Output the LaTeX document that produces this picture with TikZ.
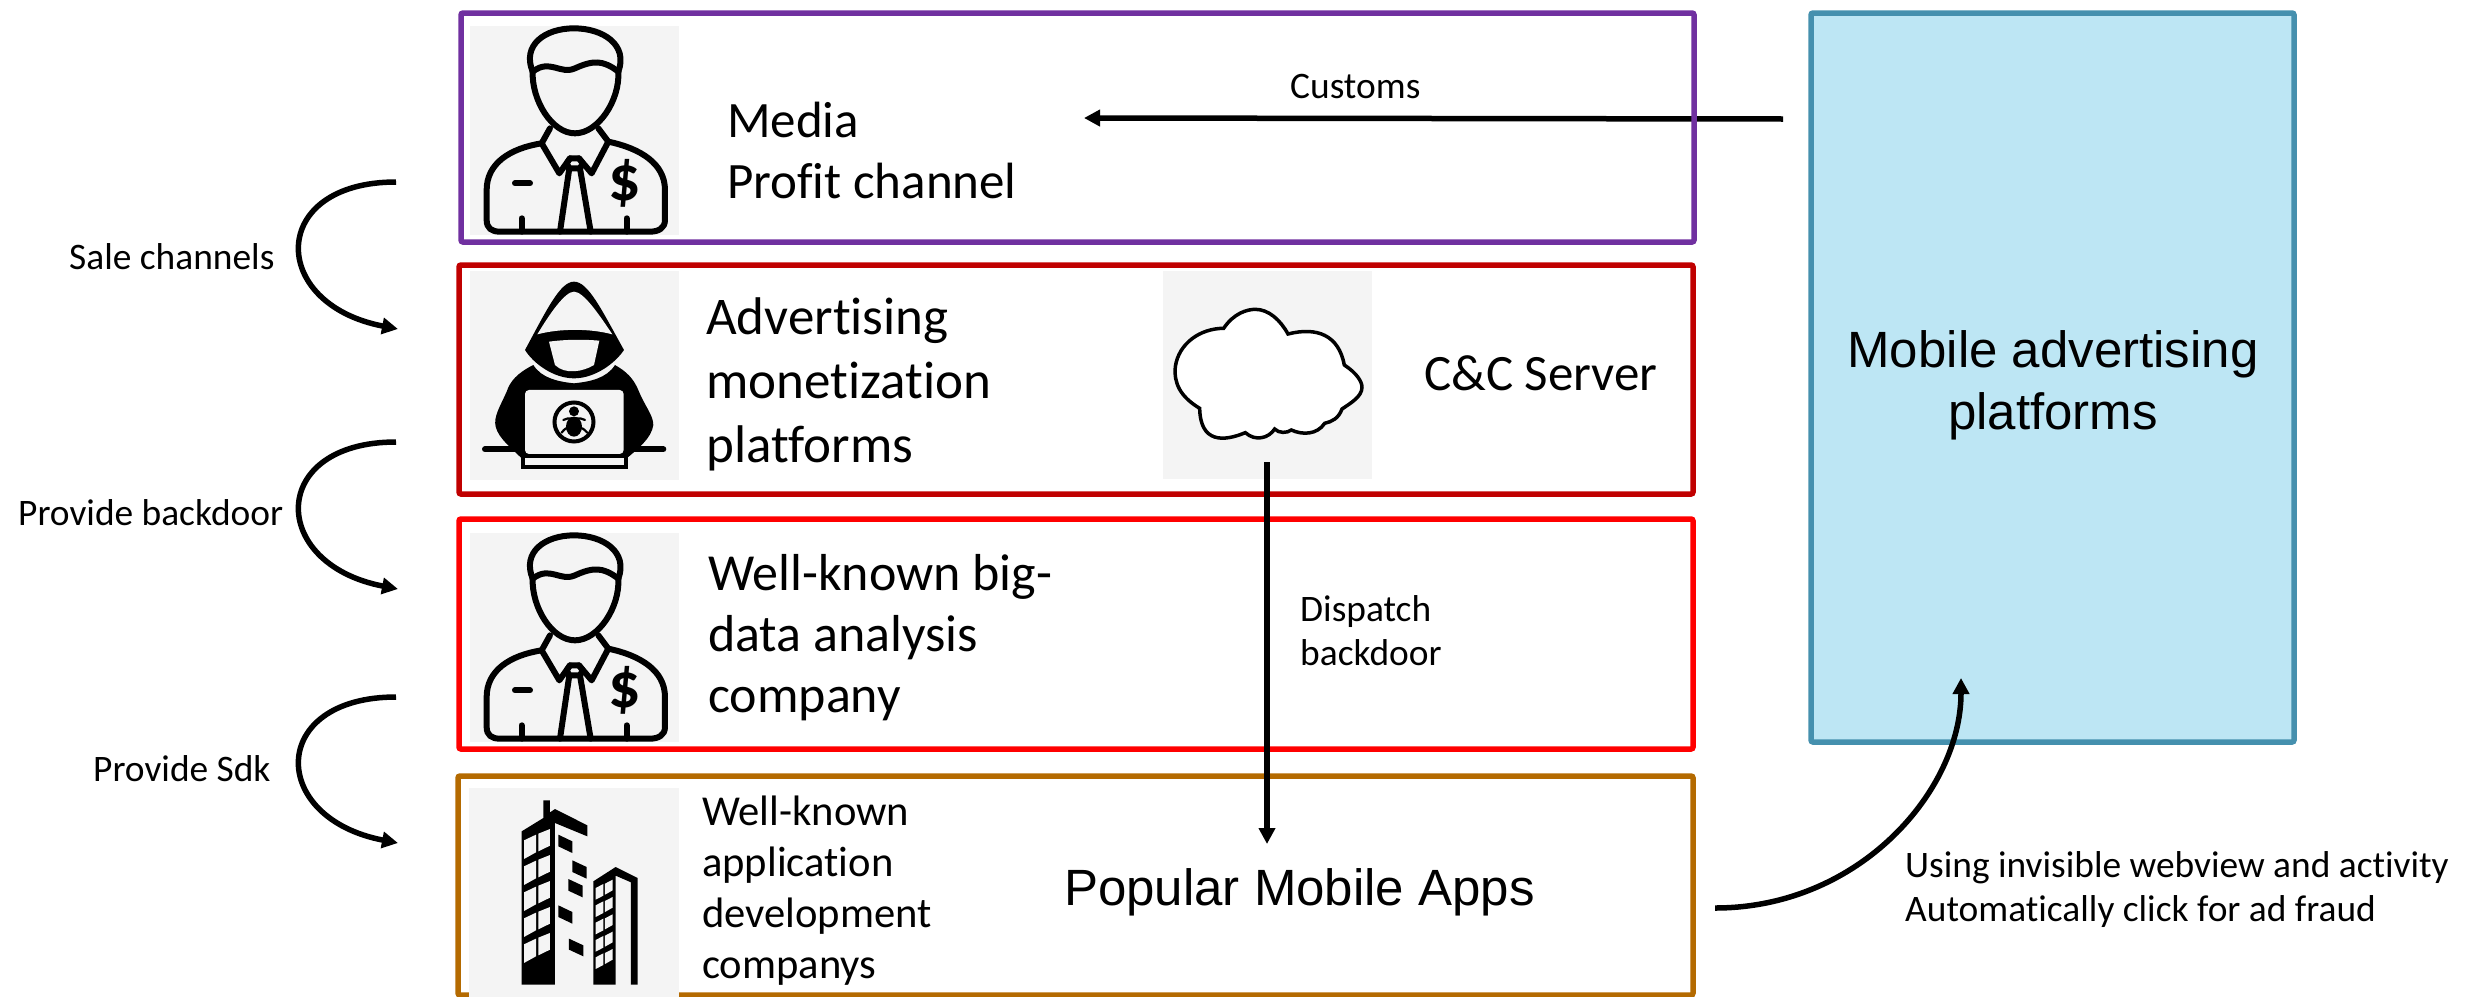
\documentclass[tikz,border=0pt]{standalone}
\usepackage{fontspec}
\setmainfont{Carlito}[Ligatures=NoCommon]
\newfontfamily\arialf{Liberation Sans}
\usetikzlibrary{arrows.meta}
\definecolor{cpurple}{HTML}{7030A0}
\definecolor{cdred}{HTML}{C00000}
\definecolor{cred}{HTML}{FF0000}
\definecolor{corange}{HTML}{B46A00}
\definecolor{cblue}{HTML}{BDE6F4}
\definecolor{cbluedk}{HTML}{4590AE}
\definecolor{cgrey}{HTML}{F4F4F4}
\tikzset{
 layerbox/.style={draw=#1,line width=5.5pt,rounded corners=2pt,inner sep=0pt,outer sep=0pt,anchor=north west},
 lbl/.style n args={2}{inner sep=0pt,align=left,anchor=west,font=\fontsize{#1}{#2}\selectfont},
 flow/.style={line width=5.5pt,-{Triangle[length=16pt,width=16pt]}},
 ink/.style={line width=6pt,line join=round,line cap=round},
 manicon/.pic={
  \begin{scope}[x=.3333pt,y=-.3333pt,shift={(-60,-78)}]
   \fill[cgrey] (60,78) rectangle (687,705);
   \draw[ink] (248,215) .. controls (215,135) and (285,85) .. (372,85) .. controls (460,85) and (535,135) .. (505,215);
   \draw[ink] (248,215) .. controls (300,175) and (330,225) .. (375,205) .. controls (430,180) and (460,180) .. (505,215);
   \draw[ink] (248,215) .. controls (245,300) and (305,400) .. (375,400) .. controls (445,400) and (510,300) .. (505,215);
   \draw[ink] (300,385) -- (275,430) -- (328,520) -- (360,475) -- (387,475) -- (425,520) -- (475,425) -- (445,385);
   \draw[ink] (360,475) -- (350,490) -- (358,505) -- (390,505) -- (398,490) -- (387,475);
   \draw[ink] (358,505) -- (330,695) (390,505) -- (422,695);
   \draw[ink] (275,430) .. controls (180,445) and (110,490) .. (110,570) -- (110,660) .. controls (110,685) and (125,695) .. (150,695) -- (600,695) .. controls (625,695) and (645,685) .. (645,660) -- (645,570) .. controls (645,490) and (570,445) .. (475,425);
   \draw[ink] (215,655) -- (215,695) (530,655) -- (530,695);
   \draw[ink] (195,550) -- (240,550);
   \node[inner sep=0pt,font=\fontsize{64}{64}\selectfont\bfseries] at (525,550) {\$};
  \end{scope}},
 hackicon/.pic={
  \begin{scope}[x=.3333pt,y=-.3333pt,shift={(-60,-63)}]
   \fill[cgrey] (60,63) rectangle (687,690);
   \draw[line width=6pt,line cap=round] (105,598) -- (640,598);
   \fill (250,345) .. controls (200,370) and (180,395) .. (170,425) .. controls (150,470) and (130,500) .. (137,530) .. controls (145,565) and (190,600) .. (215,625) -- (530,625) .. controls (560,600) and (605,565) .. (610,525) .. controls (610,495) and (585,470) .. (565,420) .. controls (550,385) and (530,365) .. (495,345) .. controls (470,385) and (420,395) .. (372,400) .. controls (325,395) and (275,385) .. (250,345) -- cycle;
   \fill (372,95) .. controls (330,95) and (290,180) .. (225,300) .. controls (250,340) and (310,385) .. (372,385) .. controls (435,385) and (495,340) .. (522,300) .. controls (455,180) and (415,95) .. (372,95) -- cycle;
   \fill[cgrey] (372,125) .. controls (345,125) and (300,190) .. (262,253) .. controls (330,235) and (420,235) .. (487,253) .. controls (445,190) and (400,125) .. (372,125) -- cycle;
   \fill[cgrey] (297,275) .. controls (350,268) and (400,268) .. (448,272) -- (432,345) .. controls (400,365) and (345,375) .. (315,345) -- cycle;
   \fill[cgrey,rounded corners=4pt] (225,420) rectangle (521,612);
   \draw[line width=4pt] (372,516) circle[radius=19.5pt];
   \fill (372,484) circle[radius=5pt];
   \fill (372,530) ellipse[x radius=8pt,y radius=10pt];
   \draw[line width=2.2pt,line cap=round] (340,510) .. controls (350,505) and (355,505) .. (365,505) (405,510) .. controls (395,505) and (390,505) .. (380,505) (335,548) .. controls (345,535) and (350,533) .. (360,533) (412,548) .. controls (400,535) and (395,533) .. (385,533);
   \fill (213,612) rectangle (534,657);
   \fill[cgrey] (225,625) rectangle (521,645);
  \end{scope}},
 buildicon/.pic={
  \begin{scope}[x=.3333pt,y=-.3333pt,shift={(-57,-55)}]
   \fill[cgrey] (57,55) rectangle (687,682);
   \fill (215,185) -- (280,145) -- (280,92) -- (300,92) -- (300,128) -- (315,118) -- (412,167) -- (412,200) -- (315,160) -- (315,645) -- (215,645) -- cycle;
   \foreach \r in {0,1,2,3,4}{
    \fill[cgrey] (222,212+78*\r) -- (258,195+78*\r) -- (258,248+78*\r) -- (222,268+78*\r) -- cycle;
    \fill[cgrey] (265,192+78*\r) -- (300,178+78*\r) -- (300,228+78*\r) -- (265,245+78*\r) -- cycle;
   }
   \fill (325,195) -- (367,215) -- (367,250) -- (325,230) -- cycle;
   \fill (367,272) -- (410,292) -- (410,327) -- (367,307) -- cycle;
   \fill (355,328) -- (398,348) -- (398,383) -- (355,363) -- cycle;
   \fill (325,407) -- (367,427) -- (367,462) -- (325,442) -- cycle;
   \fill (357,507) -- (400,527) -- (400,560) -- (357,540) -- cycle;
   \fill (430,335) -- (497,292) -- (563,325) -- (563,645) -- (543,645) -- (543,338) -- (497,318) -- (497,645) -- (430,645) -- cycle;
   \foreach \r in {0,1,2,3,4}{
    \fill[cgrey] (437,355+52*\r) -- (460,343+52*\r) -- (460,378+52*\r) -- (437,390+52*\r) -- cycle;
    \fill[cgrey] (465,342+52*\r) -- (488,330+52*\r) -- (488,362+52*\r) -- (465,375+52*\r) -- cycle;
   }
  \end{scope}},
 cloudicon/.pic={
  \begin{scope}[x=.3333pt,y=-.3333pt,shift={(-68,-33)}]
   \fill[cgrey] (68,33) rectangle (695,658);
   \draw[fill=white,line width=3.5pt] (250,205) .. controls (280,160) and (320,148) .. (345,148) .. controls (385,148) and (420,180) .. (443,222) .. controls (530,200) and (595,225) .. (612,315) .. controls (650,340) and (665,365) .. (665,382) .. controls (665,410) and (630,430) .. (605,447) .. controls (595,475) and (575,485) .. (553,490) .. controls (530,525) and (485,525) .. (453,510) .. controls (440,520) and (415,520) .. (403,507) .. controls (385,535) and (345,545) .. (315,518) .. controls (250,545) and (180,550) .. (178,445) .. controls (120,410) and (100,370) .. (105,320) .. controls (115,250) and (180,205) .. (250,205) -- cycle;
  \end{scope}},
}
\begin{document}
\begin{tikzpicture}[x=1pt,y=-1pt]
\useasboundingbox (0,0) rectangle (2467,996);
% blue platform
\node[draw=cbluedk,fill=cblue,line width=5.5pt,rounded corners=2pt,inner sep=0pt,outer sep=0pt,anchor=north west,minimum width=483pt,minimum height=729pt] (platform) at (1811,13) {};
\node[inner sep=0pt,align=center,font=\arialf\fontsize{51}{62}\selectfont] (platformtxt) at (2053,385) {Mobile advertising\\platforms};
% customs connector under the box
\coordinate (custstart) at (1783,119);
\coordinate (custend) at (1084,118);
\draw[flow] (custstart) -- (custend);
% layer boxes
\node[layerbox=cpurple,minimum width=1233pt,minimum height=229pt] (media) at (461,13) {};
\node[layerbox=cdred,minimum width=1234pt,minimum height=229pt] (adv) at (459,265) {};
\node[layerbox=cred,minimum width=1234pt,minimum height=230pt] (bigdata) at (459,519) {};
\node[layerbox=corange,minimum width=1235pt,minimum height=219pt] (apps) at (458,776) {};
% icons
\pic at (470,26) {manicon};
\pic at (470,271) {hackicon};
\pic at (470,533) {manicon};
\pic at (469,788) {buildicon};
\pic at (1163,271) {cloudicon};
% texts
\node[lbl={51}{61}] (t1) at (727,150) {Media\\Profit channel};
\node[lbl={53}{64}] (t2) at (706,384) {Advertising\\monetization\\platforms};
\node[lbl={52}{61}] (t3) at (708,638) {Well-known big-\\data analysis\\company};
\node[lbl={42.6}{51}] (t4) at (702,891) {Well-known\\application\\development\\companys};
\node[lbl={51}{61}] (t5) at (1424,373) {C\&C Server};
\node[inner sep=0pt,anchor=west,font=\arialf\fontsize{51}{62}\selectfont] (t6) at (1064,892) {Popular Mobile Apps};
\node[lbl={37.4}{44}] (t7) at (1290,87) {Customs};
\node[lbl={37.4}{44}] (t8) at (1300,631) {Dispatch\\backdoor};
\node[lbl={37.4}{44}] (t9) at (1905,890) {Using invisible webview and activity\\Automatically click for ad fraud};
\node[lbl={37.4}{44}] (l1) at (69,257) {Sale channels};
\node[lbl={37.4}{44}] (l2) at (18,513) {Provide backdoor};
\node[lbl={37.4}{44}] (l3) at (93,769) {Provide Sdk};
% connectors
\coordinate (c1a) at (396,182); \coordinate (c1b) at (398,329);
\coordinate (c2a) at (396,442); \coordinate (c2b) at (398,589);
\coordinate (c3a) at (396,697); \coordinate (c3b) at (398,843);
\foreach \a/\b in {c1a/c1b,c2a/c2b,c3a/c3b}{
 \draw[flow] (\a) .. controls +(-128,0) and +(-130,-25) .. (\b);
}
\coordinate (dstart) at (1267,462);
\coordinate (dend) at (1267,844);
\draw[flow] (dstart) -- (dend);
\coordinate (ustart) at (1715,908);
\coordinate (uend) at (1961,678);
\draw[flow] (ustart) .. controls (1860,908) and (1961,790) .. (uend);
\end{tikzpicture}
\end{document}
